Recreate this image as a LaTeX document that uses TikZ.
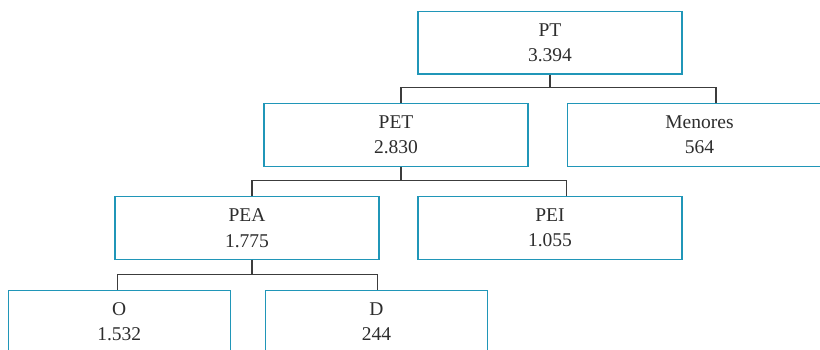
\documentclass[tikz,border=0pt]{standalone}
\usepackage{fontspec}
\setmainfont{Liberation Serif}
\definecolor{boxblue}{RGB}{32, 150, 184}
\definecolor{linegray}{RGB}{60, 60, 60}
\definecolor{textgray}{RGB}{45, 45, 45}
\tikzset{
    tbox/.style  = {rectangle, draw=boxblue, line width=1.3pt, minimum width=264pt,
                    minimum height=62.5pt, align=center, text=textgray,
                    font=\fontsize{19.5}{25.6}\selectfont},
    sbox/.style  = {tbox, minimum width=222pt},
    link/.style  = {draw=linegray, line width=1.2pt}
}
\begin{document}
\begin{tikzpicture}[x=1pt, y=-1pt]
            % Frame to fix the margins:
            \useasboundingbox                                      (  0.0,   0.0) rectangle (820.0, 349.0);
            % Boxes:
            \node[tbox] (pt)      at (550.0,  42.6) {PT\\3.394};
            \node[tbox] (pet)     at (396.0, 134.9) {PET\\2.830};
            \node[tbox] (menores) at (699.5, 134.9) {Menores\\564};
            \node[tbox] (pea)     at (247.0, 227.9) {PEA\\1.775};
            \node[tbox] (pei)     at (550.0, 227.9) {PEI\\1.055};
            \node[sbox] (o)       at (119.2, 321.5) {O\\1.532};
            \node[sbox] (d)       at (376.5, 321.5) {D\\244};
            % Connectors:
            \draw[link] (pt.south)              -- ++(0, 12.8) -| ([xshift=5.0pt]pet.north);
            \draw[link] (pt.south)              -- ++(0, 12.8) -| ([xshift=16.5pt]menores.north);
            \draw[link] ([xshift=5.0pt]pet.south) -- ++(0, 13.3) -| ([xshift=5.0pt]pea.north);
            \draw[link] ([xshift=5.0pt]pet.south) -- ++(0, 13.3) -| ([xshift=16.7pt]pei.north);
            \draw[link] ([xshift=5.0pt]pea.south) -- ++(0, 14.4) -| ([xshift=-2.0pt]o.north);
            \draw[link] ([xshift=5.0pt]pea.south) -- ++(0, 14.4) -| ([xshift=1.0pt]d.north);
\end{tikzpicture}
\end{document}
